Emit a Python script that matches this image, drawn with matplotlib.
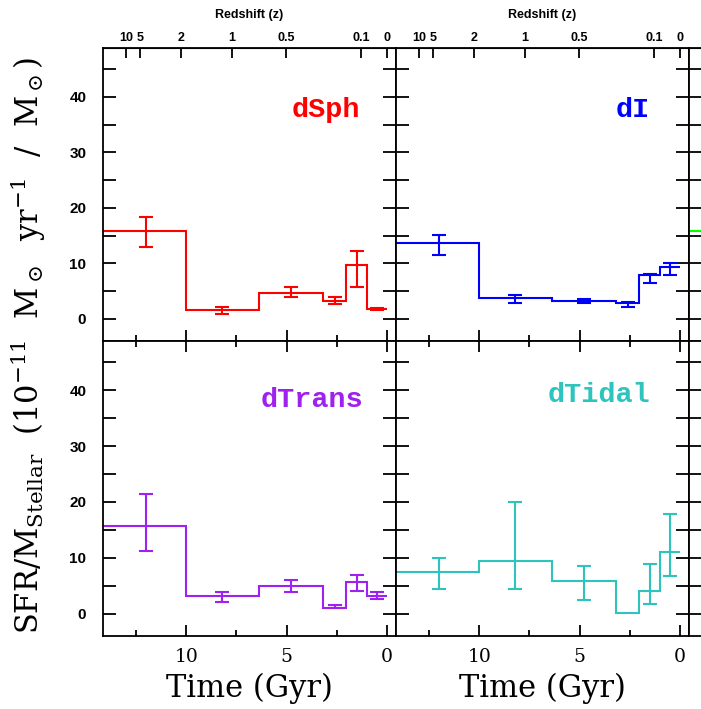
import numpy as np
import matplotlib.pyplot as plt
from matplotlib.ticker import MultipleLocator

# time bins (lookback time, Gyr)
edges = [14.3, 10.0, 6.4, 3.2, 2.05, 1.0, 0.0]
centers = [12.0, 8.2, 4.8, 2.6, 1.5, 0.5]

# specific SFR per bin, with lower / upper error limits
dsph = [15.9, 1.5, 4.7, 3.2, 9.7, 1.8]
dsph_lo = [12.9, 0.8, 3.9, 2.6, 5.8, 1.6]
dsph_hi = [18.3, 2.2, 5.8, 4.0, 12.3, 2.0]

di = [13.6, 3.7, 3.2, 2.9, 7.9, 9.3]
di_lo = [11.5, 2.9, 2.9, 2.2, 6.5, 7.9]
di_hi = [15.1, 4.3, 3.5, 3.0, 8.1, 10.0]

dtrans = [15.7, 3.1, 4.9, 1.0, 5.6, 3.1]
dtrans_lo = [11.3, 2.0, 3.8, 1.0, 4.1, 2.7]
dtrans_hi = [21.4, 3.8, 6.0, 1.6, 7.0, 3.8]

dtidal = [7.4, 9.5, 5.9, 0.2, 4.1, 11.0]
dtidal_lo = [4.5, 4.5, 2.4, np.nan, 1.7, 6.7]
dtidal_hi = [9.9, 19.9, 8.5, np.nan, 8.8, 17.8]

# next panel (cut off at the right edge), only its first bin shows
third_edges = [14.3, 10.0]
third = [15.8]

z_ticks = [10, 5, 2, 1, 0.5, 0.1, 0]
z_labels = ['10', '5', '2', '1', '0.5', '0.1', '0']


def lookback(z, h0=70.0, om=0.3):
    zz = np.linspace(0, z, 2000)
    f = 1.0 / ((1 + zz) * np.sqrt(om * (1 + zz) ** 3 + 1 - om))
    return 977.8 / h0 * np.trapezoid(f, zz)


z_pos = [lookback(z) for z in z_ticks]

plt.rcParams['mathtext.fontset'] = 'dejavuserif'

fig = plt.figure(figsize=(7.01, 7.09), dpi=100)

W = 293 / 701
cols = [103 / 701, 396 / 701, 689 / 701]
rows = [(1 - 341 / 709, 293 / 709), (1 - 636 / 709, 295 / 709)]

panels = [
    (0, 0, dsph, dsph_lo, dsph_hi, '#ff0000', 'dSph', 0.877, 0.79),
    (0, 1, di, di_lo, di_hi, '#0000ff', 'dI', 0.867, 0.79),
    (1, 0, dtrans, dtrans_lo, dtrans_hi, '#a020f0', 'dTrans', 0.89, 0.80),
    (1, 1, dtidal, dtidal_lo, dtidal_hi, '#2ec4be', 'dTidal', 0.867, 0.817),
]


def setup(ax, row, col):
    ax.set_xlim(14.15, -0.45)
    ax.set_ylim(-4, 48.8)
    for s in ax.spines.values():
        s.set_linewidth(1.3)
    ax.xaxis.set_major_locator(MultipleLocator(5))
    ax.xaxis.set_minor_locator(MultipleLocator(2.5))
    ax.yaxis.set_major_locator(MultipleLocator(10))
    ax.yaxis.set_minor_locator(MultipleLocator(5))
    show = col < 2
    ax.tick_params(axis='y', which='both', direction='in', length=9.5, width=1.3,
                   left=True, right=True, labelleft=(col == 0), pad=12)
    ax.tick_params(axis='x', which='major', direction='in', length=8, width=1.3,
                   bottom=True, top=(row == 1), labelbottom=(row == 1 and show), pad=9)
    ax.tick_params(axis='x', which='minor', direction='in', length=4.5, width=1.3,
                   bottom=True, top=(row == 1))
    for lab in ax.get_yticklabels():
        lab.set_family('Liberation Sans')
        lab.set_weight('bold')
        lab.set_fontsize(11)
    for lab in ax.get_xticklabels():
        lab.set_family('DejaVu Serif')
        lab.set_fontsize(13.5)
    if row == 0:
        sec = ax.secondary_xaxis('top')
        sec.set_xticks(z_pos, labels=z_labels if show else [])
        sec.tick_params(direction='in', length=7, width=1.3, pad=3)
        for lab in sec.get_xticklabels():
            lab.set_family('Liberation Sans')
            lab.set_weight('bold')
            lab.set_fontsize(9)
        if show:
            sec.set_xlabel('Redshift (z)', fontsize=9, fontweight='bold',
                           family='Liberation Sans', labelpad=10)


for row, col, vals, lo, hi, color, name, tx, ty in panels:
    ax = fig.add_axes([cols[col], rows[row][0], W, rows[row][1]])
    setup(ax, row, col)
    ax.stairs(vals, edges, baseline=None, color=color, lw=1.5)
    v = np.array(vals)
    yerr = [v - np.array(lo), np.array(hi) - v]
    ax.errorbar(centers, vals, yerr=yerr, fmt='none', ecolor=color,
                elinewidth=1.5, capsize=5, capthick=1.5)
    ax.text(tx, ty, name, transform=ax.transAxes, ha='right', va='center',
            color=color, fontsize=20.5, family='Liberation Mono', fontweight='bold')

for row in range(2):
    ax = fig.add_axes([cols[2], rows[row][0], W, rows[row][1]])
    setup(ax, row, 2)
    if row == 0:
        ax.stairs(third, third_edges, baseline=None, color='#00ff00', lw=1.5)

fig.text(28 / 701, 0.512,
         r'SFR/M$_{\rm Stellar}$  (10$^{-11}$  M$_\odot$  yr$^{-1}$  /  M$_\odot$)',
         rotation=90, ha='center', va='center', fontsize=22, family='DejaVu Serif')
for col in range(2):
    fig.text(cols[col] + W / 2, 1 - 688 / 709, 'Time (Gyr)', ha='center',
             va='center', fontsize=22, family='DejaVu Serif')

fig.savefig('out.png', dpi=100)
